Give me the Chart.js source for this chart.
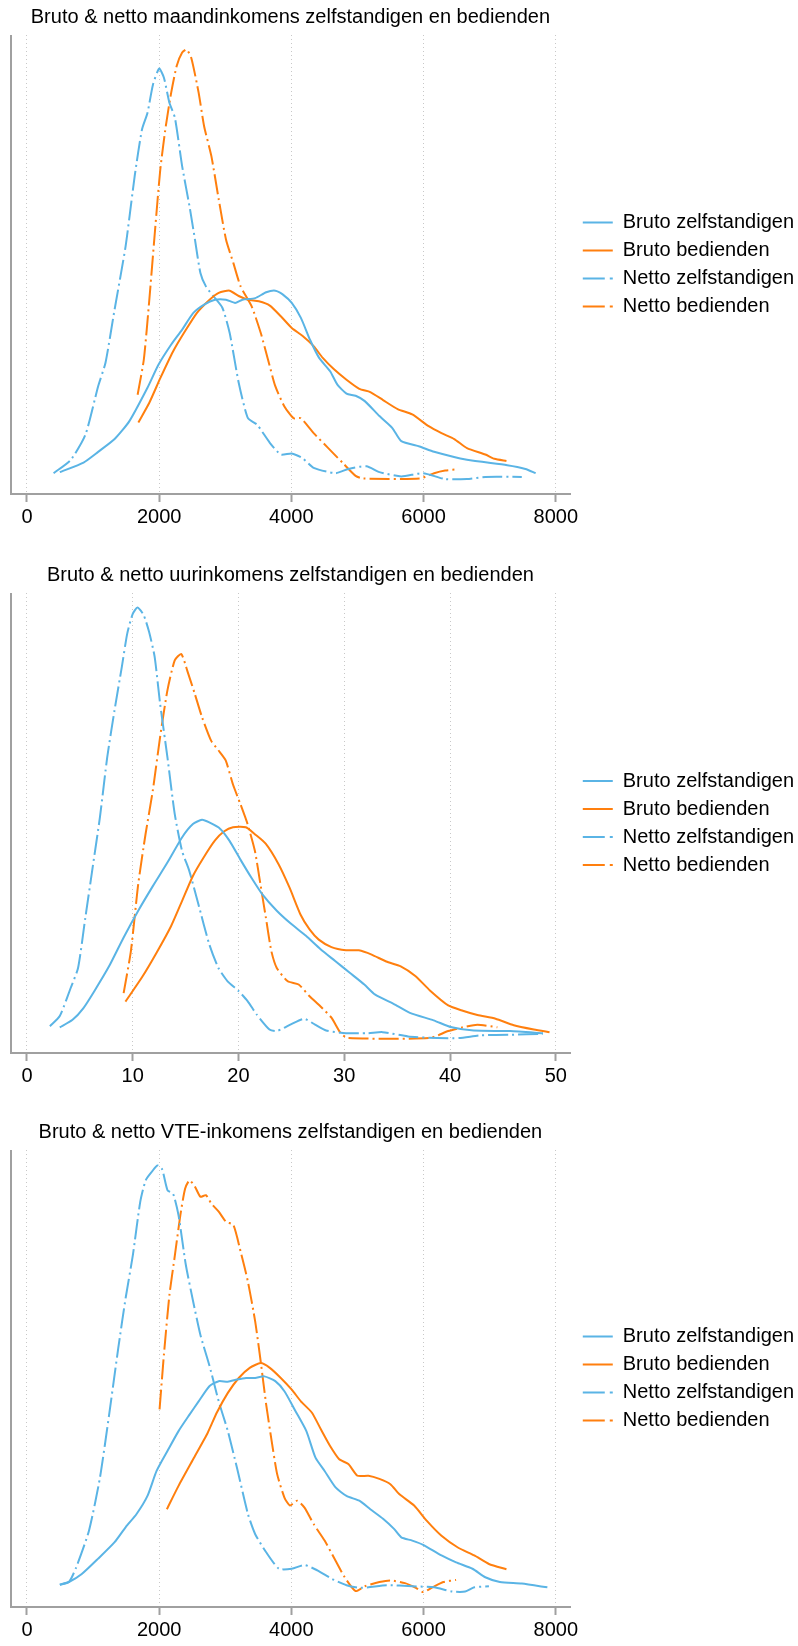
<!DOCTYPE html>
<html>
<head>
<meta charset="utf-8">
<title>Bruto & netto inkomens zelfstandigen en bedienden</title>
<script src="https://cdn.jsdelivr.net/npm/chart.js@4.4.0/dist/chart.umd.min.js"></script>
<style>
  body { margin: 0; background: #fff; }
  .paneel { position: absolute; left: 0; width: 798px; }
</style>
</head>
<body>
<div class="paneel" style="top:0px"><canvas id="grafiek1" width="798" height="540"></canvas></div>
<div class="paneel" style="top:558px"><canvas id="grafiek2" width="798" height="540"></canvas></div>
<div class="paneel" style="top:1115px"><canvas id="grafiek3" width="798" height="531"></canvas></div>
<script>
// Reeksnamen (legende)
const reeksNamen = ['Bruto zelfstandigen', 'Bruto bedienden', 'Netto zelfstandigen', 'Netto bedienden'];

// Maandinkomens: [inkomen, dichtheid]
const maandBrutoZelf = [[497,0.13],[856,0.31],[1077,0.51],[1326,0.75],[1547,1.08],[1823,1.71],[1989,2.14],[2182,2.52],[2348,2.80],[2514,3.11],[2680,3.27],[2845,3.36],[3011,3.36],[3149,3.30],[3260,3.36],[3453,3.39],[3619,3.50],[3757,3.53],[3868,3.46],[4006,3.30],[4144,3.02],[4282,2.61],[4420,2.27],[4586,2.02],[4696,1.77],[4834,1.60],[4972,1.56],[5111,1.46],[5332,1.18],[5525,0.96],[5663,0.71],[5939,0.61],[6160,0.51],[6657,0.36],[7265,0.26],[7541,0.19],[7696,0.11]];
const maandBrutoBed = [[1685,1.06],[1851,1.43],[2017,1.89],[2210,2.39],[2376,2.74],[2569,3.11],[2763,3.36],[2901,3.49],[3066,3.53],[3204,3.43],[3343,3.36],[3508,3.33],[3674,3.25],[3840,3.05],[4006,2.83],[4171,2.68],[4337,2.49],[4475,2.27],[4641,2.06],[4834,1.86],[5028,1.69],[5194,1.63],[5387,1.48],[5608,1.31],[5829,1.21],[6077,0.99],[6271,0.86],[6464,0.75],[6657,0.58],[6934,0.46],[7072,0.38],[7254,0.34]];
const maandNettoZelf = [[403,0.11],[663,0.36],[884,0.83],[1077,1.74],[1188,2.18],[1326,3.18],[1492,4.36],[1630,5.68],[1740,6.55],[1823,6.86],[1906,7.39],[2000,7.69],[2072,7.52],[2155,7.05],[2238,6.77],[2348,5.86],[2459,5.11],[2541,4.49],[2624,3.86],[2707,3.61],[2818,3.43],[2956,3.21],[3066,2.74],[3204,1.80],[3343,1.14],[3481,1.02],[3674,0.68],[3840,0.46],[4006,0.48],[4171,0.39],[4337,0.21],[4669,0.11],[4862,0.19],[5138,0.24],[5332,0.13],[5663,0.05],[5994,0.11],[6326,0.00],[6657,0.00],[6934,0.04],[7486,0.04]];
const maandNettoBed = [[1674,1.58],[1768,2.24],[1851,3.36],[1934,4.61],[2017,5.80],[2100,6.61],[2182,7.24],[2265,7.74],[2348,7.99],[2414,8.05],[2486,7.89],[2597,7.24],[2680,6.61],[2790,6.05],[2901,5.24],[3011,4.49],[3122,4.05],[3232,3.61],[3398,3.24],[3536,2.74],[3646,2.24],[3757,1.74],[3895,1.36],[4033,1.14],[4144,1.14],[4337,0.86],[4558,0.58],[4779,0.30],[4972,0.06],[5083,0.01],[5939,0.01],[6160,0.11],[6326,0.16],[6492,0.18]];

// Uurinkomens
const uurBrutoZelf = [[3.1,0.2],[4.31,0.34],[5.34,0.56],[6.38,0.88],[7.76,1.34],[9.14,1.88],[10.52,2.38],[11.9,2.84],[13.28,3.28],[14.66,3.75],[15.69,4.0],[16.55,4.08],[17.24,4.03],[18.28,3.91],[19.14,3.69],[20.17,3.34],[21.21,3.0],[22.24,2.69],[23.62,2.38],[25,2.13],[26.38,1.91],[27.76,1.66],[29.14,1.44],[30.52,1.22],[31.9,1.0],[32.93,0.81],[34.66,0.64],[36.21,0.47],[38.45,0.33],[40.17,0.2],[42.24,0.14],[45.69,0.13],[48.79,0.09]];
const uurBrutoBed = [[9.31,0.68],[10.86,1.13],[12.24,1.59],[13.62,2.09],[14.66,2.56],[15.69,3.03],[16.72,3.38],[17.76,3.69],[18.62,3.86],[19.48,3.94],[20.69,3.94],[21.55,3.81],[22.59,3.63],[23.79,3.25],[24.83,2.81],[25.86,2.31],[26.72,2.03],[27.59,1.84],[28.79,1.7],[30.17,1.64],[31.38,1.64],[32.59,1.56],[33.97,1.43],[35.34,1.34],[36.72,1.16],[38.1,0.89],[39.83,0.61],[41.21,0.51],[42.59,0.43],[44.31,0.36],[46.03,0.24],[47.93,0.16],[49.41,0.11]];
const uurNettoZelf = [[2.17,0.22],[3.1,0.41],[4.14,0.94],[4.83,1.31],[5.52,2.25],[6.21,3.19],[6.9,4.13],[7.59,5.25],[8.28,6.13],[8.97,6.94],[9.48,7.56],[10,7.93],[10.45,8.05],[11.03,7.91],[11.55,7.59],[12.07,7.13],[12.59,6.25],[13.28,5.25],[13.97,4.19],[14.66,3.5],[15.34,3.13],[16.21,2.5],[17.24,1.75],[18.1,1.31],[18.97,1.06],[20,0.88],[20.86,0.69],[21.72,0.44],[22.93,0.16],[23.62,0.13],[25,0.26],[26.21,0.36],[27.24,0.25],[28.28,0.14],[30.17,0.09],[32.24,0.09],[33.62,0.11],[36.03,0.03],[38.79,0],[40.86,0],[42.93,0.05],[45.69,0.06],[48.79,0.08]];
const uurNettoBed = [[9.14,0.84],[9.83,1.63],[10.52,2.88],[11.21,3.81],[11.9,4.63],[12.59,5.63],[13.28,6.5],[13.97,7.06],[14.59,7.18],[15.17,6.86],[15.86,6.44],[16.55,6.0],[17.41,5.56],[18.1,5.38],[18.79,5.19],[19.48,4.74],[20.17,4.38],[20.86,4.0],[21.55,3.5],[22.07,2.88],[22.59,2.25],[23.1,1.63],[23.62,1.31],[24.66,1.06],[25.69,1.0],[26.72,0.78],[27.76,0.59],[28.79,0.38],[29.66,0.09],[30.34,0],[38.1,0],[39.83,0.13],[41.21,0.2],[42.59,0.25],[44.48,0.2]];

// VTE-inkomens
const vteBrutoZelf = [[497,0.14],[635,0.19],[829,0.34],[1077,0.63],[1326,0.94],[1492,1.22],[1658,1.47],[1823,1.81],[1961,2.28],[2127,2.66],[2293,3.03],[2459,3.34],[2597,3.59],[2763,3.88],[2901,3.97],[3039,3.96],[3177,4.0],[3315,4.03],[3453,4.03],[3591,4.06],[3757,3.97],[3895,3.78],[4061,3.41],[4227,3.03],[4365,2.53],[4503,2.28],[4669,1.97],[4834,1.81],[5028,1.72],[5194,1.56],[5387,1.38],[5553,1.19],[5663,1.03],[5829,0.97],[5994,0.89],[6271,0.69],[6492,0.56],[6740,0.44],[6934,0.28],[7155,0.19],[7486,0.16],[7873,0.09]];
const vteBrutoBed = [[2116,1.56],[2293,2.0],[2514,2.5],[2735,3.0],[2873,3.38],[3039,3.75],[3204,4.03],[3370,4.22],[3536,4.31],[3674,4.22],[3840,4.03],[4006,3.81],[4144,3.59],[4309,3.38],[4448,3.06],[4586,2.75],[4724,2.5],[4862,2.41],[5000,2.19],[5166,2.19],[5332,2.13],[5498,2.03],[5636,1.84],[5857,1.63],[6050,1.34],[6271,1.06],[6519,0.84],[6768,0.69],[6989,0.53],[7254,0.43]];
const vteNettoZelf = [[497,0.14],[635,0.19],[746,0.47],[939,1.16],[1105,2.16],[1243,3.34],[1381,4.59],[1492,5.53],[1602,6.34],[1713,7.34],[1796,7.75],[1895,7.92],[1972,8.03],[2044,7.96],[2127,7.56],[2210,7.5],[2293,7.09],[2403,6.16],[2514,5.47],[2624,4.84],[2763,4.25],[2901,3.59],[3039,3.03],[3177,2.34],[3343,1.47],[3453,1.09],[3619,0.75],[3812,0.44],[4006,0.44],[4199,0.51],[4392,0.41],[4613,0.25],[4834,0.13],[5055,0.08],[5442,0.13],[5829,0.11],[6160,0.09],[6437,0.01],[6630,0.01],[6768,0.09],[6989,0.11]];
const vteNettoBed = [[2006,3.44],[2072,4.47],[2155,5.59],[2238,6.34],[2320,7.09],[2392,7.59],[2459,7.75],[2541,7.63],[2624,7.44],[2707,7.47],[2790,7.31],[2901,7.16],[3011,6.97],[3122,6.91],[3232,6.41],[3343,5.84],[3453,5.09],[3536,4.34],[3619,3.53],[3702,2.84],[3785,2.22],[3895,1.78],[3978,1.63],[4088,1.72],[4199,1.59],[4337,1.28],[4503,0.97],[4669,0.59],[4807,0.28],[4972,0.02],[5111,0.11],[5332,0.19],[5498,0.22],[5719,0.17],[5884,0.08],[5994,0],[6133,0.09],[6299,0.19],[6492,0.23]];

// Assen
const maandTicks = [0, 2000, 4000, 6000, 8000];
const uurTicks = [0, 10, 20, 30, 40, 50];

const blauw = '#5ab4e5';
const oranje = '#ff7f0e';
const asKleur = '#a0a0a0';
const lettertype = "'Liberation Sans', Arial, Helvetica, sans-serif";

// lijnstijl van de legende (begint met een kleine opening)
const legendeStreep = [[0, 5, 30, 100], [0, 5, 30, 100], [0, 5, 22, 5, 3, 100], [0, 5, 22, 5, 3, 100]];

function punten(reeks) {
  return reeks.map(function(p) { return { x: p[0], y: p[1] }; });
}

function maakGrafiek(id, titel, reeksen, ticks, onderMarge) {
  const bereik = ticks[ticks.length - 1] - ticks[0];
  const xMin = ticks[0] - bereik * 0.0302;
  const kleuren = [blauw, oranje, blauw, oranje];

  const datasets = reeksen.map(function(r, i) {
    return {
      label: reeksNamen[i],
      data: punten(r),
      borderColor: kleuren[i],
      backgroundColor: kleuren[i],
      borderWidth: 2,
      borderDash: i >= 2 ? [20, 4, 2, 4] : [],
      pointRadius: 0,
      tension: 0.2,
      fill: false
    };
  });

  // eerste rasterlijn (op xMin) doet dienst als verticale as
  const isAs = function(c) { return c.index === 0; };

  const ctx = document.getElementById(id).getContext('2d');
  return new Chart(ctx, {
    type: 'line',
    data: { datasets: datasets },
    options: {
      responsive: false,
      animation: false,
      // rechts negatieve marge: de legende loopt tot tegen de rand
      layout: { padding: { left: 11, right: -6, top: 0, bottom: onderMarge } },
      plugins: {
        title: {
          display: true,
          text: titel,
          fullSize: false,
          color: '#000',
          font: { family: lettertype, size: 20, weight: 'normal' },
          padding: { top: 5.5, bottom: 5.5 }
        },
        legend: {
          position: 'right',
          fullSize: false,
          align: 'center',
          labels: {
            usePointStyle: true,
            pointStyle: 'line',
            pointStyleWidth: 35,
            padding: 8,
            color: '#000',
            font: { family: lettertype, size: 20 },
            generateLabels: function(chart) {
              const items = Chart.defaults.plugins.legend.labels.generateLabels(chart);
              items.forEach(function(it, i) { it.lineDash = legendeStreep[i]; });
              return items;
            }
          }
        },
        tooltip: { enabled: false }
      },
      scales: {
        x: {
          type: 'linear',
          min: xMin,
          max: ticks[ticks.length - 1] + bereik * 0.0265,
          afterBuildTicks: function(as) {
            as.ticks = [{ value: xMin }].concat(ticks.map(function(v) { return { value: v }; }));
          },
          grid: {
            color: function(c) { return isAs(c) ? asKleur : '#c8c8c8'; },
            lineWidth: function(c) { return isAs(c) ? 2 : 1; },
            drawTicks: true,
            tickLength: 8,
            tickColor: function(c) { return isAs(c) ? 'rgba(0,0,0,0)' : asKleur; },
            tickWidth: 2,
            tickBorderDash: []
          },
          border: {
            display: true,
            color: asKleur,
            width: 2,
            dash: function(c) { return isAs(c) ? [] : [1, 3]; }
          },
          ticks: {
            padding: 3,
            color: '#000',
            font: { family: lettertype, size: 20 },
            maxRotation: 0,
            autoSkip: false,
            callback: function(v, i) { return i === 0 ? '' : String(v); }
          }
        },
        y: {
          display: false,
          min: -0.28,
          max: 8.32
        }
      }
    }
  });
}

maakGrafiek('grafiek1', 'Bruto & netto maandinkomens zelfstandigen en bedienden',
  [maandBrutoZelf, maandBrutoBed, maandNettoZelf, maandNettoBed], maandTicks, 8);
maakGrafiek('grafiek2', 'Bruto & netto uurinkomens zelfstandigen en bedienden',
  [uurBrutoZelf, uurBrutoBed, uurNettoZelf, uurNettoBed], uurTicks, 7);
maakGrafiek('grafiek3', 'Bruto & netto VTE-inkomens zelfstandigen en bedienden',
  [vteBrutoZelf, vteBrutoBed, vteNettoZelf, vteNettoBed], maandTicks, 1);
</script>
</body>
</html>
